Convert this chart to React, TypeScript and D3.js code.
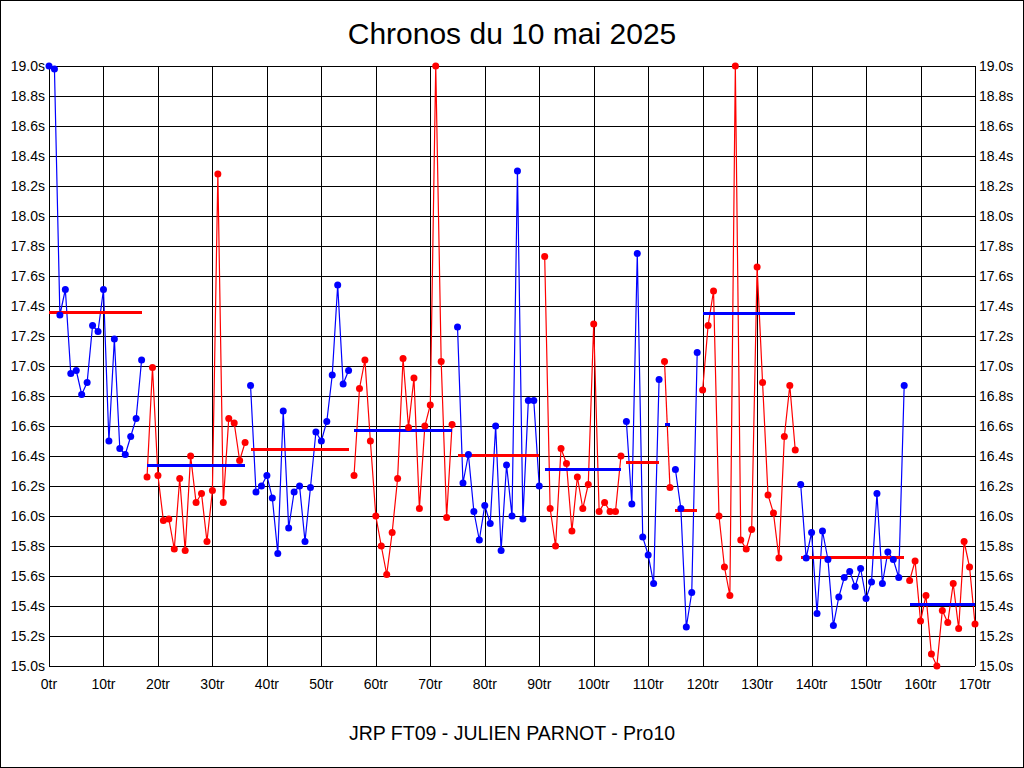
import React from "react";
import * as d3 from "d3";

const lapTimes: number[] = [
  19.0, 18.98, 17.34, 17.51, 16.95, 16.97, 16.81, 16.89, 17.27, 17.23,
  17.51, 16.5, 17.18, 16.45, 16.41, 16.53, 16.65, 17.04, 16.26, 16.99,
  16.27, 15.97, 15.98, 15.78, 16.25, 15.77, 16.4, 16.09, 16.15, 15.83,
  16.17, 18.28, 16.09, 16.65, 16.62, 16.37, 16.49, 16.87, 16.16, 16.2,
  16.27, 16.12, 15.75, 16.7, 15.92, 16.16, 16.2, 15.83, 16.19, 16.56,
  16.5, 16.63, 16.94, 17.54, 16.88, 16.97, 16.27, 16.85, 17.04, 16.5,
  16.0, 15.8, 15.61, 15.89, 16.25, 17.05, 16.59, 16.92, 16.05, 16.6,
  16.74, 19.0, 17.03, 15.99, 16.61, 17.26, 16.22, 16.41, 16.03, 15.84,
  16.07, 15.95, 16.6, 15.77, 16.34, 16.0, 18.3, 15.98, 16.77, 16.77,
  16.2, 17.73, 16.05, 15.8, 16.45, 16.35, 15.9, 16.26, 16.05, 16.21,
  17.28, 16.03, 16.09, 16.03, 16.03, 16.4, 16.63, 16.08, 17.75, 15.86,
  15.74, 15.55, 16.91, 17.03, 16.19, 16.31, 16.05, 15.26, 15.49, 17.09,
  16.84, 17.27, 17.5, 16.0, 15.66, 15.47, 19.0, 15.84, 15.78, 15.91,
  17.66, 16.89, 16.14, 16.02, 15.72, 16.53, 16.87, 16.44, 16.21, 15.72,
  15.89, 15.35, 15.9, 15.71, 15.27, 15.46, 15.59, 15.63, 15.53, 15.65,
  15.45, 15.56, 16.15, 15.55, 15.76, 15.71, 15.59, 16.87, 15.57, 15.7,
  15.3, 15.47, 15.08, 15.0, 15.37, 15.29, 15.55, 15.25, 15.83, 15.66,
  15.28,
];

const stintStart: number[] = [0, 18, 37, 56, 75, 91, 106, 113, 115, 120, 138, 158];
const stintEnd: number[] = [17, 36, 55, 74, 90, 105, 112, 114, 119, 137, 157, 170];
const stintColor: string[] = ["blue", "red", "blue", "red", "blue", "red", "blue", "red", "blue", "red", "blue", "red"];
const stintMean: number[] = [17.36, 16.338, 16.444, 16.571, 16.404, 16.311, 16.358, 16.611, 16.038, 17.351, 15.725, 15.411];

const xTicks: number[] = [0, 10, 20, 30, 40, 50, 60, 70, 80, 90, 100, 110, 120, 130, 140, 150, 160, 170];
const yTicks: number[] = [15.0, 15.2, 15.4, 15.6, 15.8, 16.0, 16.2, 16.4, 16.6, 16.8, 17.0, 17.2, 17.4, 17.6, 17.8, 18.0, 18.2, 18.4, 18.6, 18.8, 19.0];

const title = "Chronos du 10 mai 2025";
const subtitle = "JRP FT09 - JULIEN PARNOT - Pro10";

const COLORS: Record<string, string> = { blue: "#0000ff", red: "#ff0000" };
const FONT = "Arial, 'Liberation Sans', sans-serif";

export default function App() {
  const W = 1024;
  const H = 768;
  const x = d3.scaleLinear().domain([0, 170]).range([49, 975]);
  const y = d3.scaleLinear().domain([15, 19]).range([666, 66]);

  const stints = stintStart.map((s, k) => {
    const idx = d3.range(s, stintEnd[k] + 1);
    const pts = idx.map((i) => [x(i), y(lapTimes[i])] as [number, number]);
    const path = d3.line()(pts) || "";
    const color = COLORS[stintColor[k]];
    const meanColor = COLORS[stintColor[k] === "blue" ? "red" : "blue"];
    return { k, idx, pts, path, color, meanColor, s, e: stintEnd[k], mean: stintMean[k] };
  });

  return (
    <div style={{ position: "absolute", left: 0, top: 0, width: W, height: H, background: "#fff" }}>
      <svg width={W} height={H} style={{ display: "block" }}>
        <rect x={0} y={0} width={W} height={H} fill="#fff" />
        <rect x={0.5} y={0.5} width={W - 1} height={H - 1} fill="none" stroke="#000" strokeWidth={1} />
        <text x={512} y={44} textAnchor="middle" fontFamily={FONT} fontSize={30} fill="#000">
          {title}
        </text>
        <text x={512} y={740} textAnchor="middle" fontFamily={FONT} fontSize={19.5} fill="#000">
          {subtitle}
        </text>
        {/* grid */}
        <g shapeRendering="crispEdges" stroke="#000" strokeWidth={1}>
          {xTicks.map((t) => (
            <line key={"gx" + t} x1={Math.round(x(t)) + 0.5} x2={Math.round(x(t)) + 0.5} y1={y(19)} y2={y(15)} />
          ))}
          {yTicks.map((t) => (
            <line key={"gy" + t} x1={x(0)} x2={x(170)} y1={Math.round(y(t)) + 0.5} y2={Math.round(y(t)) + 0.5} />
          ))}
        </g>
        {/* tick labels */}
        <g fontFamily={FONT} fontSize={14} fill="#000">
          {yTicks.map((t) => (
            <text key={"yl" + t} x={45} y={y(t) + 5} textAnchor="end">
              {t.toFixed(1) + "s"}
            </text>
          ))}
          {yTicks.map((t) => (
            <text key={"yr" + t} x={979} y={y(t) + 5} textAnchor="start">
              {t.toFixed(1) + "s"}
            </text>
          ))}
          {xTicks.map((t) => (
            <text key={"xl" + t} x={x(t)} y={689} textAnchor="middle">
              {t + "tr"}
            </text>
          ))}
        </g>
        {/* stint lines */}
        {stints.map((st) => (
          <path key={"p" + st.k} d={st.path} fill="none" stroke={st.color} strokeWidth={1.2} />
        ))}
        {/* mean lines */}
        {stints.map((st) => (
          <line
            key={"m" + st.k}
            x1={x(st.s)}
            x2={x(st.e)}
            y1={y(st.mean)}
            y2={y(st.mean)}
            stroke={st.meanColor}
            strokeWidth={3}
            shapeRendering="crispEdges"
          />
        ))}
        {/* points */}
        {stints.map((st) =>
          st.pts.map((p, j) => (
            <circle key={"c" + st.k + "-" + j} cx={p[0]} cy={p[1]} r={3.5} fill={st.color} />
          ))
        )}
      </svg>
    </div>
  );
}
